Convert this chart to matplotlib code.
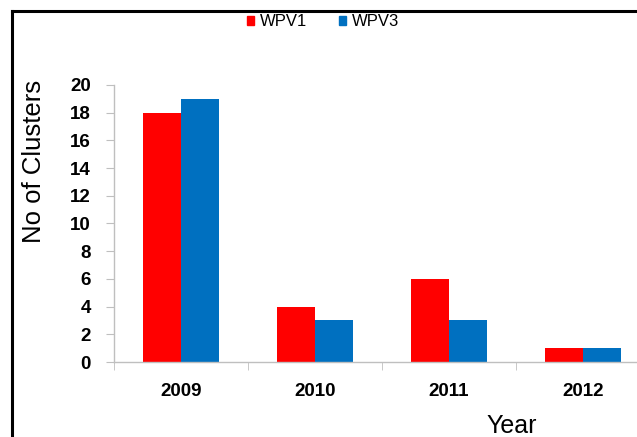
import matplotlib
matplotlib.use('Agg')
import matplotlib.pyplot as plt
from matplotlib.patches import Patch
from matplotlib.lines import Line2D

years = ['2009', '2010', '2011', '2012']
wpv1 = [18, 4, 6, 1]
wpv3 = [19, 3, 3, 1]
yticks = [0, 2, 4, 6, 8, 10, 12, 14, 16, 18, 20]

plt.rcParams['font.family'] = ['Liberation Sans', 'DejaVu Sans']

red = '#ff0000'
blue = '#0070c0'
grey = '#bfbfbf'

fig = plt.figure(figsize=(6.37, 4.37), dpi=100)
ax = fig.add_axes([0.179, 0.1716, 0.841, 0.634])

xs = range(len(years))
w = 0.285
ax.bar([x - w / 2 for x in xs], wpv1, width=w, color=red)
ax.bar([x + w / 2 for x in xs], wpv3, width=w, color=blue)

ax.set_xlim(-0.5, 3.5)
ax.set_ylim(0, 20)
ax.set_yticks(yticks)
ax.set_xticks(list(xs))
ax.set_xticklabels(years)
ax.set_xticks([x - 0.5 for x in range(len(years) + 1)], minor=True)

for s in ['top', 'right']:
    ax.spines[s].set_visible(False)
for s in ['left', 'bottom']:
    ax.spines[s].set_color(grey)
    ax.spines[s].set_linewidth(1)

ax.tick_params(axis='y', length=5.8, color=grey, pad=11, labelsize=13.5)
ax.tick_params(axis='x', which='major', length=0, pad=15, labelsize=13.5)
ax.tick_params(axis='x', which='minor', length=5.8, color=grey)
for lab in ax.get_xticklabels() + ax.get_yticklabels():
    lab.set_fontweight('bold')

fig.text(0.054, 0.63, 'No of Clusters', rotation=90, fontsize=18.5,
         ha='center', va='center')
fig.text(0.804, 0.009, 'Year', fontsize=18, ha='center', va='baseline')

handles = [Patch(color=red, label='WPV1'), Patch(color=blue, label='WPV3')]
fig.legend(handles=handles, loc='center', bbox_to_anchor=(0.507, 0.95),
           ncol=2, frameon=False, fontsize=12, handlelength=0.45,
           handleheight=0.45, handletextpad=0.35, columnspacing=1.9)

# outer frame: left and top edges only
fig.add_artist(Line2D([12 / 637, 12 / 637], [0, 1 - 11 / 437],
                      color='black', lw=2.2, transform=fig.transFigure))
fig.add_artist(Line2D([12 / 637, 1], [1 - 11 / 437, 1 - 11 / 437],
                      color='black', lw=2.2, transform=fig.transFigure))

fig.savefig('out.png', dpi=100)
